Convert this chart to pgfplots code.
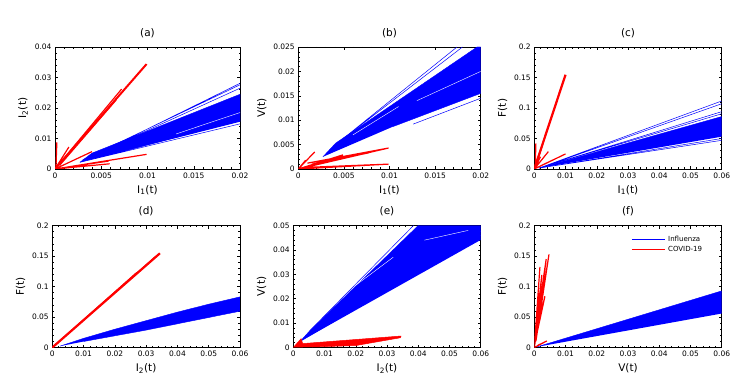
\documentclass[border=0pt]{standalone}
\usepackage{fontspec}
\setmainfont{DejaVu Sans}
\usepackage{pgfplots}
\pgfplotsset{compat=1.18}

\definecolor{flu}{RGB}{0,0,255}
\definecolor{cov}{RGB}{255,0,0}

\pgfplotsset{
  panel/.style={
    scale only axis, anchor=south west,
    height=122pt,
    axis line style={line width=0.6pt},
    tick align=inside, major tick length=3pt, minor tick length=1.5pt,
    minor tick num=4,
    every tick/.style={black, line width=0.5pt},
    scaled ticks=false,
    /pgf/number format/fixed, /pgf/number format/precision=3,
    /pgf/number format/assume math mode=true,
    tick label style={font=\fontsize{7.5}{9}\selectfont},
    label style={font=\fontsize{10.5}{12}\selectfont},
    title style={font=\fontsize{10.5}{12}\selectfont},
    unbounded coords=jump,
    clip=true,
  },
  flufill/.style={draw=flu, fill=flu, line width=0.4pt, forget plot},
  flulines/.style={flu, line width=0.5pt, forget plot},
  covlines/.style={cov, line width=1.2pt, forget plot},
}

\begin{document}
\begin{tikzpicture}
\path[use as bounding box] (0pt,0pt) rectangle (755pt,-382pt);

% (a)
\begin{axis}[panel, at={(55pt,-169pt)}, width=185pt,
  title={(a)}, xlabel={I\textsubscript{1}(t)}, ylabel={I\textsubscript{2}(t)},
  xmin=0, xmax=0.02, ymin=0, ymax=0.04,
  xtick={0,0.005,0.01,0.015,0.02}, ytick={0,0.01,0.02,0.03,0.04}]
\addplot[flufill] coordinates {(0.0027,0.0022) (0.0040,0.0052) (0.02,0.0245) (0.02,0.0155)};
\addplot[flulines] coordinates {
 (0.0027,0.0022) (0.02,0.0281) (0.02,nan)
 (0.0030,0.0030) (0.02,0.0276) (0.02,nan)
 (0.0033,0.0034) (0.02,0.0265) (0.02,nan)
 (0.0027,0.0022) (0.02,0.0148) (0.02,nan)
 (0.0027,0.0022) (0.02,0.0158)};
\addplot[white, line width=0.4pt, forget plot] coordinates {(0.0131,0.0115) (0.02,0.0185)};
\addplot[cov, line width=2pt, forget plot] coordinates {(0,0) (0.0099,0.0344)};
\addplot[covlines] coordinates {
 (0,0) (0.0072,0.0262) (0,nan)
 (0.0005,0.0012) (0.0066,0.0226) (0,nan)
 (0,0) (0.0099,0.0048) (0,nan)
 (0,0) (0.0059,0.0017) (0,nan)
 (0,0) (0.0058,0.0026) (0,nan)
 (0,0) (0.0040,0.0057) (0,nan)
 (0,0) (0.0015,0.0072) (0,nan)
 (0,0) (0.0035,0.0015) (0,nan)
 (0.0001,0) (0.0002,0.0087)};
\end{axis}

% (b)
\begin{axis}[panel, at={(298.3pt,-169pt)}, width=182.4pt,
  title={(b)}, xlabel={I\textsubscript{1}(t)}, ylabel={V(t)},
  xmin=0, xmax=0.02, ymin=0, ymax=0.025,
  xtick={0,0.005,0.01,0.015,0.02}, ytick={0,0.005,0.01,0.015,0.02,0.025}]
\addplot[flufill] coordinates {(0.0027,0.0025) (0.0041,0.0053) (0.0196,0.025) (0.02,0.025) (0.02,0.0155) (0.0104,0.0087)};
\addplot[flulines] coordinates {
 (0.0041,0.0050) (0.0174,0.0250) (0.02,nan)
 (0.0043,0.0053) (0.0180,0.0250) (0.02,nan)
 (0.0126,0.0092) (0.02,0.0145)};
\addplot[white, line width=0.4pt, forget plot] coordinates {
 (0.0060,0.0070) (0.0110,0.0128) (0.02,nan)
 (0.0130,0.0140) (0.0200,0.0200)};
\addplot[covlines] coordinates {
 (0,0) (0.0099,0.0043) (0.0010,0.0012) (0.0077,0.0033) (0.0015,0.0010)
 (0.0060,0.0026) (0.0005,0.0003) (0.0099,0.0010) (0,0) (0,nan)
 (0,0) (0.0018,0.0035) (0,nan)
 (0,0) (0.0008,0.0018) (0,nan)
 (0,0) (0.0035,0.0020) (0,nan)
 (0,0) (0.0049,0.0029)};
\end{axis}

% (c)
\begin{axis}[panel, at={(534.3pt,-169pt)}, width=187.4pt,
  title={(c)}, xlabel={I\textsubscript{1}(t)}, ylabel={F(t)},
  xmin=0, xmax=0.06, ymin=0, ymax=0.2,
  xtick={0,0.01,0.02,0.03,0.04,0.05,0.06}, ytick={0,0.05,0.1,0.15,0.2}]
\addplot[flufill] coordinates {(0.0015,0.0015) (0.06,0.086) (0.06,0.053)};
\addplot[flulines] coordinates {
 (0.0015,0.0015) (0.06,0.1115) (0.06,nan)
 (0.0020,0.0020) (0.06,0.1070) (0.06,nan)
 (0.0015,0.0015) (0.06,0.0940) (0.06,nan)
 (0.0015,0.0015) (0.06,0.0905) (0.06,nan)
 (0.0015,0.0015) (0.06,0.0470) (0.06,nan)
 (0.0015,0.0015) (0.06,0.0500)};
\addplot[cov, line width=2.2pt, forget plot] coordinates {(0,0) (0.0100,0.1545)};
\addplot[covlines] coordinates {
 (0,0) (0.0094,0.1460) (0,nan)
 (0.0004,0.004) (0.0082,0.1280) (0,nan)
 (0,0) (0.0045,0.0285) (0,nan)
 (0,0) (0.0100,0.0247) (0,nan)
 (0,0) (0.0060,0.0150) (0,nan)
 (0,0) (0.0020,0.0200) (0,nan)
 (0.0003,0) (0.0005,0.0420)};
\end{axis}

% (d)
\begin{axis}[panel, at={(52.3pt,-347.5pt)}, width=187.7pt,
  title={(d)}, xlabel={I\textsubscript{2}(t)}, ylabel={F(t)},
  xmin=0, xmax=0.06, ymin=0, ymax=0.2,
  xtick={0,0.01,0.02,0.03,0.04,0.05,0.06}, ytick={0,0.05,0.1,0.15,0.2}]
\addplot[flufill] coordinates {(0.0025,0.0023) (0.01,0.0150) (0.02,0.0300) (0.03,0.0440) (0.04,0.0580) (0.05,0.0710) (0.06,0.0830) (0.06,0.0595) (0.03,0.0285) (0.01,0.0098)};
\addplot[cov, line width=2.2pt, forget plot] coordinates {(0,0) (0.0344,0.1544)};
\addplot[covlines] coordinates {
 (0,0) (0.0270,0.1230) (0,nan)
 (0,0) (0.0330,0.1490)};
\end{axis}

% (e)
\begin{axis}[panel, at={(293.3pt,-347.5pt)}, width=187.4pt,
  title={(e)}, xlabel={I\textsubscript{2}(t)}, ylabel={V(t)},
  xmin=0, xmax=0.06, ymin=0, ymax=0.05,
  xtick={0,0.01,0.02,0.03,0.04,0.05,0.06}, ytick={0,0.01,0.02,0.03,0.04,0.05}]
\addplot[flufill] coordinates {(0.0022,0.0025) (0.0053,0.0069) (0.0400,0.05) (0.06,0.05) (0.06,0.0441)};
\addplot[flulines] coordinates {
 (0.0053,0.0069) (0.0385,0.0500) (0.06,nan)
 (0.0022,0.0025) (0.0600,0.0460)};
\addplot[flu, line width=1.2pt, forget plot] coordinates {(0.0550,0.0425) (0.06,0.0478)};
\addplot[white, line width=0.4pt, forget plot] coordinates {
 (0.0200,0.0255) (0.0320,0.0370) (0.06,nan)
 (0.0420,0.0440) (0.0560,0.0480)};
\addplot[draw=cov, fill=cov, line width=0.5pt, forget plot] coordinates {(0,0) (0.0025,0.0036) (0.0030,0.0016) (0.0345,0.0047) (0.0343,0.0040) (0.0200,0.0008) (0.0060,0.0002)};
\end{axis}

% (f)
\begin{axis}[panel, at={(534.3pt,-347.5pt)}, width=187.4pt,
  title={(f)}, xlabel={V(t)}, ylabel={F(t)},
  xmin=0, xmax=0.06, ymin=0, ymax=0.2,
  xtick={0,0.01,0.02,0.03,0.04,0.05,0.06}, ytick={0,0.05,0.1,0.15,0.2}]
\addplot[flufill] coordinates {(0.0008,0.0010) (0.06,0.0928) (0.06,0.0557)};
\addplot[covlines] coordinates {
 (0,0) (0.0047,0.1527) (0.0005,0.0100) (0.0038,0.1450) (0.0003,0.0200)
 (0.0024,0.1190) (0.0008,0.0300) (0.0034,0.0840) (0.0003,0.0100)
 (0.0013,0.0890) (0,0) (0.0018,0.1320) (0,0) (0,nan)
 (0,0) (0.0040,0.0107) (0.0010,0.0030) (0.0018,0.0054)};
% legend samples
\addplot[flu, line width=0.9pt, forget plot] coordinates {(0.0312,0.1774) (0.0419,0.1774)};
\addplot[cov, line width=0.9pt, forget plot] coordinates {(0.0312,0.1610) (0.0419,0.1610)};
\node[anchor=west, inner sep=0pt, font=\fontsize{7}{8.5}\selectfont] at (axis cs:0.0428,0.1774) {Influenza};
\node[anchor=west, inner sep=0pt, font=\fontsize{7}{8.5}\selectfont] at (axis cs:0.0428,0.1610) {COVID-19};
\end{axis}
\end{tikzpicture}
\end{document}
